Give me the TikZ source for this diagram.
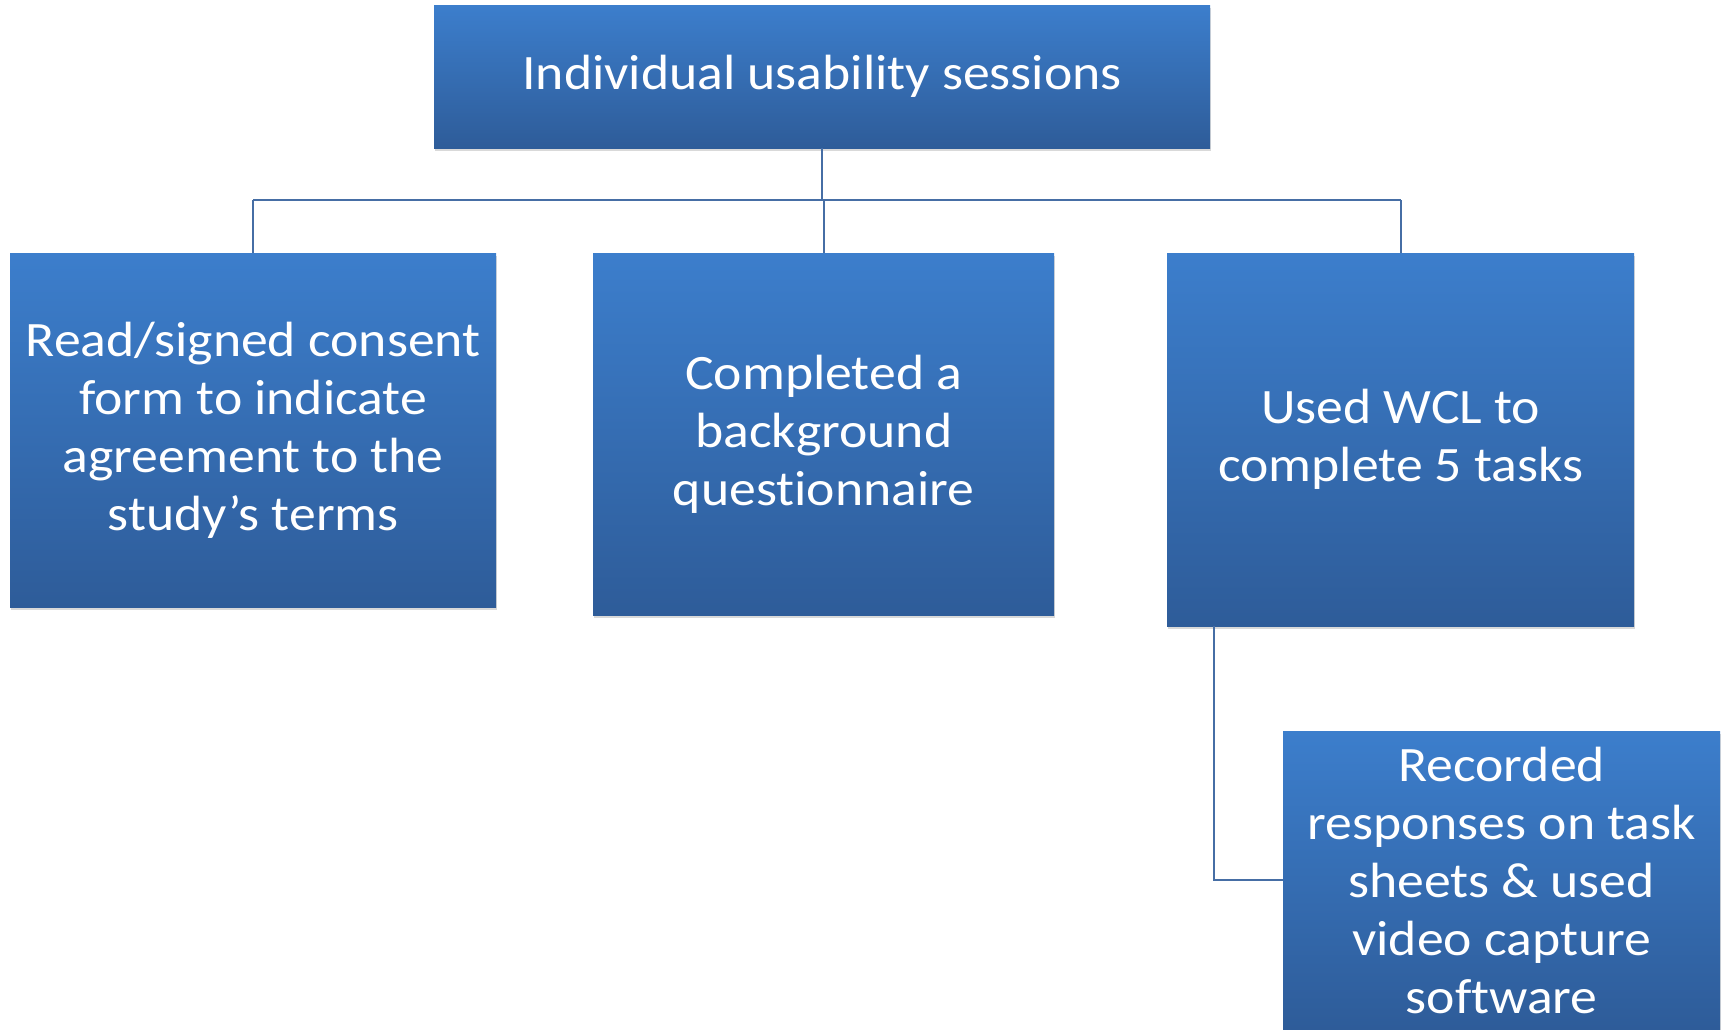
\documentclass[tikz,border=0pt]{standalone}
\usepackage{fontspec}
\setmainfont{Carlito}[FakeStretch=1.085, Ligatures=NoCommon]
\usetikzlibrary{shadows}
\definecolor{boxtop}{RGB}{60,126,204}
\definecolor{boxbot}{RGB}{46,92,153}
\definecolor{linkc}{RGB}{70,110,165}
\tikzset{
  box/.style={rectangle, anchor=north west, inner sep=0pt, align=center,
    top color=boxtop, bottom color=boxbot, draw=none, text=white,
    font=\fontsize{49.5}{58}\selectfont,
    drop shadow={opacity=0.25, shadow xshift=1pt, shadow yshift=-3pt, fill=black!60}},
  link/.style={draw=linkc, line width=2pt}
}
\begin{document}
\begin{tikzpicture}[x=1pt,y=-1pt]
\useasboundingbox (0,0) rectangle (1727,1029);
\node[box, minimum width=776pt, minimum height=143pt] (top) at (434,5) {Individual usability sessions};
\node[box, minimum width=486pt, minimum height=354pt] (left) at (10,253) {Read/signed consent\\form to indicate\\agreement to the\\study’s terms};
\node[box, minimum width=461pt, minimum height=362pt] (mid) at (593,253) {Completed a\\background\\questionnaire};
\node[box, minimum width=467pt, minimum height=373pt] (right) at (1167,253) {Used WCL to\\complete 5 tasks};
\begin{scope}
\clip (0,0) rectangle (1727,1029);
\node[box, minimum width=437pt, minimum height=298pt] (bot) at (1283,731) {Recorded\\responses on task\\sheets \& used\\video capture\\software};
\end{scope}
\coordinate (bus) at (0,200);
\draw[link] (top.south) -- (top.south |- bus);
\draw[link] (left.north |- bus) -- (right.north |- bus);
\draw[link] (left.north |- bus) -- (left.north);
\draw[link] (mid.north |- bus) -- (mid.north);
\draw[link] (right.north |- bus) -- (right.north);
\coordinate (rb) at ([xshift=47pt]right.south west);
\draw[link] (rb) |- (bot.west);
\end{tikzpicture}
\end{document}
